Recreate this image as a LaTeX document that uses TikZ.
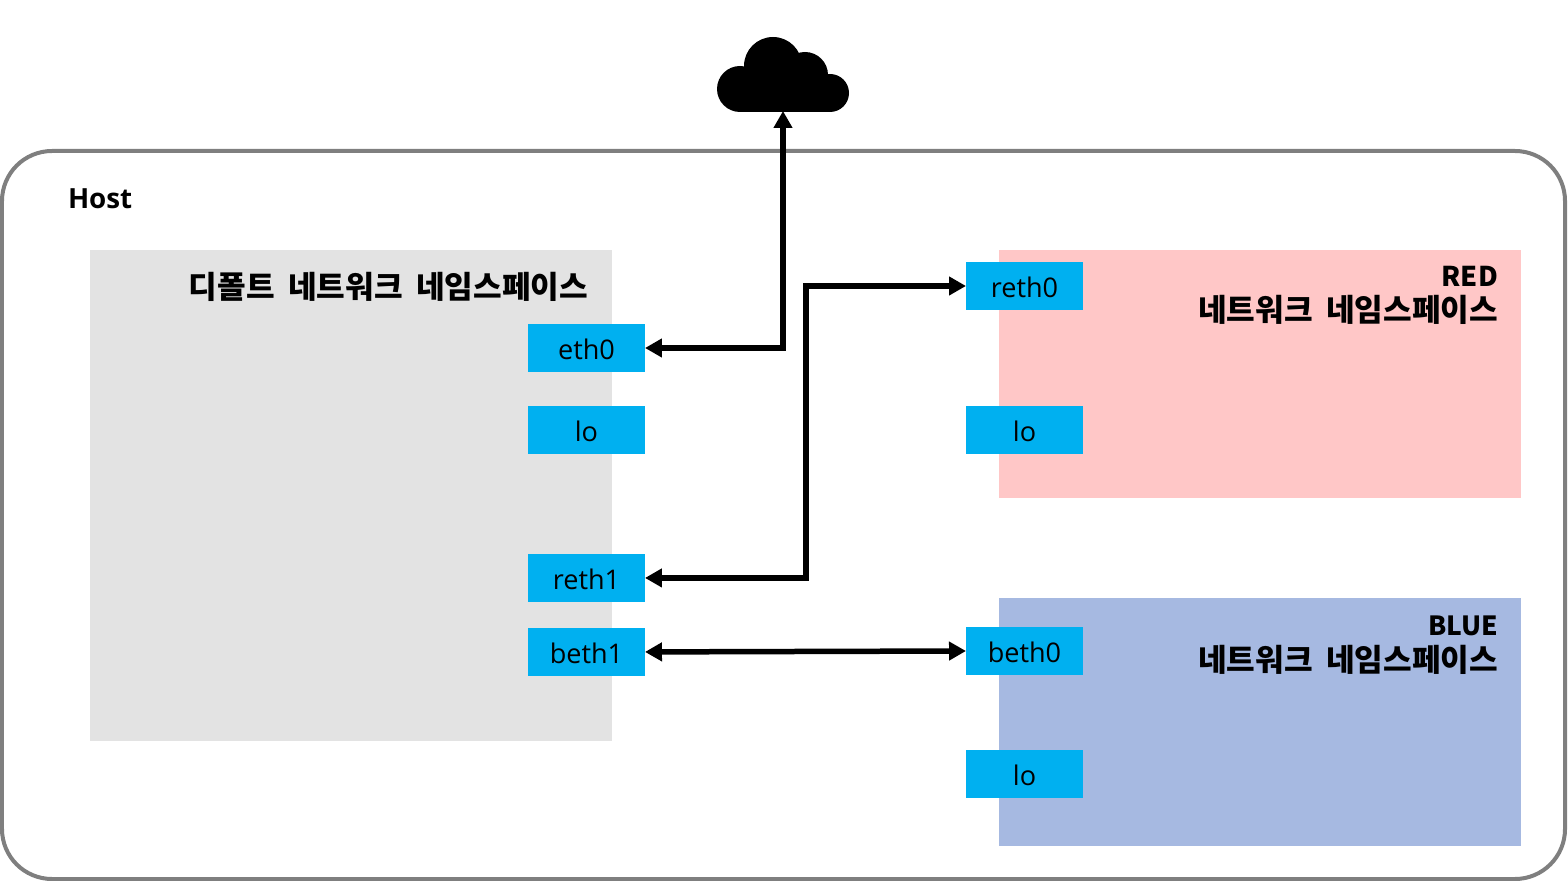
\documentclass[tikz,border=0pt]{standalone}
\usepackage{fontspec}
\setmainfont{Open Sans}
\newfontfamily\krfont[WordSpace=1.9]{Noto Sans CJK KR}
\usepackage{tikz}
\usetikzlibrary{positioning,arrows.meta}

\begin{document}
\begin{tikzpicture}[x=0.02cm, y=-0.02cm, every node/.style={align=center, outer sep=0pt}]
    % colours
    \definecolor{hostline}{RGB}{127,127,127}
    \definecolor{defaultfill}{RGB}{227,227,227}
    \definecolor{redfill}{RGB}{255,199,199}
    \definecolor{bluefill}{RGB}{166,185,225}
    \definecolor{ifacefill}{RGB}{0,176,240}

    % styles
    \tikzstyle{nsbox} = [rectangle, draw=none, minimum width=10.44cm, inner sep=0pt]
    \tikzstyle{iface} = [rectangle, draw=none, fill=ifacefill, minimum width=2.34cm, minimum height=0.96cm, inner sep=0pt, text height=0.47cm, text depth=0cm, font=\fontsize{15.4}{18}\selectfont]
    \tikzstyle{nstitle} = [font=\krfont\fontsize{17.7}{20.2}\selectfont\bfseries, align=right, inner sep=0pt]
    \tikzstyle{link} = [line width=0.11cm, {Triangle[width=0.36cm, length=0.34cm]}-{Triangle[width=0.36cm, length=0.34cm]}]

    \useasboundingbox (0,0) rectangle (1568,881);

    % Host
    \draw[hostline, line width=0.08cm, rounded corners=1cm] (2,151) rectangle (1565,879);
    \node[font=\fontsize{15.8}{18}\selectfont\bfseries, anchor=west, inner sep=0pt] (host) at (68,199) {Host};

    % default namespace
    \node[nsbox, fill=defaultfill, minimum height=9.82cm, anchor=north west] (default) at (90,250) {};
    \node[nstitle, below left=0.45cm and 0.48cm of default.north east] (defaulttitle) {디폴트 네트워크 네임스페이스};
    \node[iface, anchor=north west] (eth0) at (528,324) {eth0};
    \node[iface, below=0.68cm of eth0] (lo0) {lo};
    \node[iface, below=2cm of lo0] (reth1) {reth1};
    \node[iface, below=0.52cm of reth1] (beth1) {beth1};

    % RED
    \node[nsbox, fill=redfill, minimum height=4.96cm, anchor=north west] (red) at (999,250) {};
    \node[nstitle, below left=0.32cm and 0.46cm of red.north east] (redtitle) {{\fontsize{15.5}{19.3}\selectfont RED}\\네트워크 네임스페이스};
    \node[iface, anchor=north west] (reth0) at (966,262) {reth0};
    \node[iface, anchor=north west] (lo1) at (966,406) {lo};

    % BLUE
    \node[nsbox, fill=bluefill, minimum height=4.96cm, anchor=north west] (blue) at (999,598) {};
    \node[nstitle, below left=0.36cm and 0.46cm of blue.north east] (bluetitle) {{\fontsize{15}{19.3}\selectfont BLUE}\\네트워크 네임스페이스};
    \node[iface, anchor=north west] (beth0) at (966,627) {beth0};
    \node[iface, below=1.5cm of beth0] (lo2) {lo};

    % cloud
    \node[minimum width=2.64cm, minimum height=1.5cm, inner sep=0pt] (cloud) at (783,73.5) {};
    \fill (740,89) circle (23);
    \fill (773,66) circle (29);
    \fill (805,75) circle (23);
    \fill (830,93) circle (19);
    \fill (740,80) rectangle (830,112);

    % arrows
    \coordinate (bend) at (806,432);
    \draw[link] (eth0.east) -| (cloud.south);
    \draw[link] (reth1.east) -| (bend) |- (reth0.west);
    \draw[link] (beth1.east) -- (beth0.west);
\end{tikzpicture}
\end{document}
